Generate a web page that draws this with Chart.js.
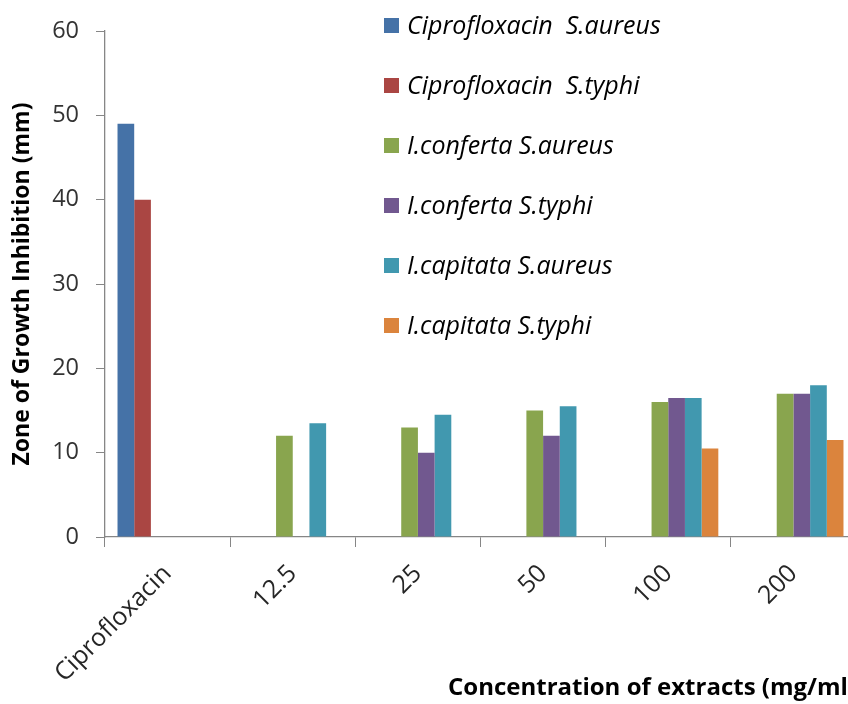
<!DOCTYPE html>
<html>
<head>
<meta charset="utf-8">
<script src="https://cdn.jsdelivr.net/npm/chart.js@4/dist/chart.umd.min.js"></script>
<style>
  html, body { margin: 0; padding: 0; background: #fff; overflow: hidden; }
  #wrap { width: 862px; height: 704px; }
</style>
</head>
<body>
<div id="wrap"><canvas id="c" width="862" height="704"></canvas></div>
<script>
// Zone of growth inhibition (mm) by extract concentration
const categories = ['Ciprofloxacin', '12.5', '25', '50', '100', '200'];
const seriesNames = [
  'Ciprofloxacin  S.aureus',
  'Ciprofloxacin  S.typhi',
  'I.conferta S.aureus',
  'I.conferta S.typhi',
  'I.capitata S.aureus',
  'I.capitata S.typhi'
];
const ciproSaureus    = [49, null, null, null, null, null];
const ciproStyphi     = [40, null, null, null, null, null];
const confertaSaureus = [null, 12, 13, 15, 16, 17];
const confertaStyphi  = [null, null, 10, 12, 16.5, 17];
const capitataSaureus = [null, 13.5, 14.5, 15.5, 16.5, 18];
const capitataStyphi  = [null, null, null, null, 10.5, 11.5];
const yTicks = [0, 10, 20, 30, 40, 50, 60];
const colors = ['#4572A7', '#AA4643', '#89A54E', '#71588F', '#4198AF', '#DB843D'];

const seriesValues = [ciproSaureus, ciproStyphi, confertaSaureus, confertaStyphi, capitataSaureus, capitataStyphi];
const FONT = '"Open Sans", Lato, sans-serif';
const AXIS = '#868686';

// Vertical legend drawn over the upper right of the plot
const sideLegend = {
  id: 'sideLegend',
  afterDraw(chart) {
    const ctx = chart.ctx;
    ctx.save();
    chart.data.datasets.forEach((ds, i) => {
      const cy = 25.5 + i * 60;
      ctx.fillStyle = ds.backgroundColor;
      ctx.fillRect(384, cy - 7.5, 15, 15);
      ctx.fillStyle = '#000';
      ctx.font = 'italic 25px ' + FONT;
      ctx.textBaseline = 'middle';
      ctx.textAlign = 'left';
      ctx.fillText(ds.label, 407, cy + 1);
    });
    ctx.restore();
  }
};

new Chart(document.getElementById('c'), {
  type: 'bar',
  data: {
    labels: categories,
    datasets: seriesNames.map((name, i) => ({
      label: name,
      data: seriesValues[i],
      backgroundColor: colors[i],
      borderWidth: 0,
      barPercentage: 1.0,
      categoryPercentage: 0.8,
      skipNull: false
    }))
  },
  options: {
    responsive: false,
    animation: false,
    layout: { padding: { top: 28, right: 6, bottom: 0, left: 0 } },
    plugins: {
      legend: { display: false },
      tooltip: { enabled: false }
    },
    scales: {
      x: {
        grid: { drawOnChartArea: false, drawTicks: true, tickLength: 10, color: AXIS, offset: true },
        border: { display: true, color: AXIS, width: 1.3 },
        ticks: {
          color: '#262626',
          font: { family: FONT, size: 25 },
          maxRotation: 45, minRotation: 45,
          padding: 12
        },
        title: {
          display: true,
          text: 'Concentration of extracts (mg/ml)',
          align: 'end',
          color: '#000',
          font: { family: FONT, size: 24, weight: 'bold' },
          padding: { top: 0, bottom: 1 }
        },
        afterFit(scale) { scale.height = 167; }
      },
      y: {
        min: 0, max: 60,
        afterBuildTicks(scale) { scale.ticks = yTicks.map(v => ({ value: v })); },
        grid: { drawOnChartArea: false, drawTicks: true, tickLength: 9, color: AXIS },
        border: { display: true, color: AXIS, width: 1.3 },
        ticks: {
          color: '#333',
          font: { family: FONT, size: 23.5 },
          padding: 17
        },
        title: {
          display: true,
          text: 'Zone of Growth Inhibition (mm)',
          color: '#000',
          font: { family: FONT, size: 23, weight: 'bold' },
          padding: { top: 9, bottom: 0 }
        },
        afterFit(scale) { scale.width = 105; }
      }
    }
  },
  plugins: [sideLegend]
});
</script>
</body>
</html>
